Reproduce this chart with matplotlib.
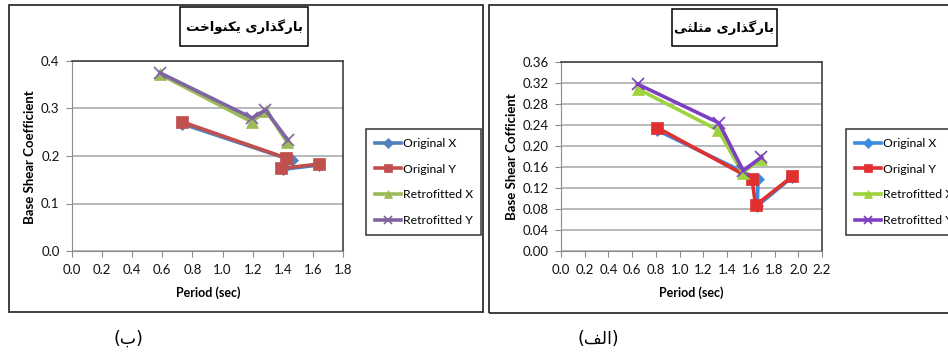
import matplotlib
matplotlib.use("Agg")
from matplotlib import pyplot as plt
from matplotlib.patches import Rectangle

# داده ها - بارگذاری یکنواخت (ب)
u_orig_x_t = [0.73, 1.46, 1.40, 1.64]
u_orig_x_c = [0.268, 0.191, 0.172, 0.181]
u_orig_y_t = [0.73, 1.42, 1.39, 1.64]
u_orig_y_c = [0.272, 0.196, 0.174, 0.183]
u_retro_x_t = [0.585, 1.193, 1.29, 1.43]
u_retro_x_c = [0.372, 0.272, 0.295, 0.229]
u_retro_y_t = [0.585, 1.197, 1.285, 1.435]
u_retro_y_c = [0.375, 0.280, 0.297, 0.233]

# داده ها - بارگذاری مثلثی (الف)
t_orig_x_t = [0.81, 1.66, 1.655, 1.95]
t_orig_x_c = [0.230, 0.137, 0.086, 0.141]
t_orig_y_t = [0.81, 1.61, 1.64, 1.95]
t_orig_y_c = [0.235, 0.137, 0.087, 0.142]
t_retro_x_t = [0.645, 1.326, 1.53, 1.69]
t_retro_x_c = [0.309, 0.230, 0.149, 0.176]
t_retro_y_t = [0.645, 1.331, 1.536, 1.69]
t_retro_y_c = [0.318, 0.244, 0.153, 0.179]

series_names = ["Original X", "Original Y", "Retrofitted X", "Retrofitted Y"]

# اشکال حروف: (تنها، پایانی، آغازی، میانی)
FORMS = {
    '\u0627': ('\uFE8D', '\uFE8E', None, None),
    '\u0628': ('\uFE8F', '\uFE90', '\uFE91', '\uFE92'),
    '\u062A': ('\uFE95', '\uFE96', '\uFE97', '\uFE98'),
    '\u062B': ('\uFE99', '\uFE9A', '\uFE9B', '\uFE9C'),
    '\u062E': ('\uFEA5', '\uFEA6', '\uFEA7', '\uFEA8'),
    '\u0630': ('\uFEAB', '\uFEAC', None, None),
    '\u0631': ('\uFEAD', '\uFEAE', None, None),
    '\u0641': ('\uFED1', '\uFED2', '\uFED3', '\uFED4'),
    '\u0644': ('\uFEDD', '\uFEDE', '\uFEDF', '\uFEE0'),
    '\u0645': ('\uFEE1', '\uFEE2', '\uFEE3', '\uFEE4'),
    '\u0646': ('\uFEE5', '\uFEE6', '\uFEE7', '\uFEE8'),
    '\u0648': ('\uFEED', '\uFEEE', None, None),
    '\u06CC': ('\uFBFC', '\uFBFD', '\uFBFE', '\uFBFF'),
    '\u06A9': ('\uFB8E', '\uFB8F', '\uFB90', '\uFB91'),
    '\u06AF': ('\uFB92', '\uFB93', '\uFB94', '\uFB95'),
}


def fa(text):
    out = []
    for i, ch in enumerate(text):
        if ch not in FORMS:
            out.append(ch)
            continue
        prev = text[i - 1] if i > 0 else ''
        nxt = text[i + 1] if i + 1 < len(text) else ''
        jp = prev in FORMS and FORMS[prev][2] is not None
        jn = nxt in FORMS and FORMS[ch][2] is not None
        iso, fin, ini, med = FORMS[ch]
        if jp and jn:
            out.append(med)
        elif jp:
            out.append(fin)
        elif jn:
            out.append(ini)
        else:
            out.append(iso)
    mirror = {'(': ')', ')': '('}
    return ''.join(mirror.get(c, c) for c in reversed(out))


plt.rcParams['font.family'] = ['Lato', 'DejaVu Sans']

W, H = 948, 356
fig = plt.figure(figsize=(W / 100, H / 100), dpi=100)


def px(x0, y0, x1, y1):
    return [x0 / W, 1 - y1 / H, (x1 - x0) / W, (y1 - y0) / H]


def box(x0, y0, x1, y1, lw, color):
    fig.patches.append(Rectangle((x0 / W, 1 - y1 / H), (x1 - x0) / W, (y1 - y0) / H,
                                 transform=fig.transFigure, fill=False, edgecolor=color, lw=lw))


# قاب ها
box(9, 5, 483, 312, 1.3, '#303030')
box(489, 5, 960, 313, 1.3, '#303030')


def draw(rect, data, colors, xmax, ymax, ystep, yfmt, ylabel, title, tbox, leg_x, xlab_x, ylab_x):
    ax = fig.add_axes(rect)
    markers = [('D', 6), ('s', 8), ('^', 8), ('x', 8)]
    for (t, c), col, (m, ms), name in zip(data, colors, markers, series_names):
        ax.plot(t, c, color=col, lw=2.6, marker=m, markersize=ms, markeredgewidth=1.2 if m == 'x' else 0.5,
                markeredgecolor=col, label=name)
    ax.set_xlim(0, xmax)
    ax.set_ylim(0, ymax)
    nxt = int(round(xmax / 0.2)) + 1
    ax.set_xticks([i * 0.2 for i in range(nxt)])
    ax.set_xticklabels(['%.1f' % (i * 0.2) for i in range(nxt)])
    nyt = int(round(ymax / ystep)) + 1
    ax.set_yticks([i * ystep for i in range(nyt)])
    ax.set_yticklabels([yfmt % (i * ystep) for i in range(nyt)])
    ax.grid(axis='y', color='#a6a6a6', lw=1.1)
    ax.set_axisbelow(True)
    for s in ['left', 'bottom']:
        ax.spines[s].set_color('#8c8c8c')
    for s in ['top', 'right']:
        ax.spines[s].set_color('#404040')
        ax.spines[s].set_linewidth(1.2)
    ax.tick_params(axis='both', direction='out', length=4, color='#8c8c8c', labelsize=9.5,
                   labelcolor='#111111', pad=5)
    fig.text(xlab_x / W, 1 - 293 / H, 'Period (sec)', ha='center', va='center',
             fontsize=9, fontweight='bold')
    fig.text(ylab_x / W, 1 - 157 / H, ylabel, ha='center', va='center', rotation=90,
             fontsize=9.5, fontweight='bold')
    box(*tbox, 1.1, 'black')
    fig.text((tbox[0] + tbox[2]) / 2 / W, 1 - (tbox[1] + tbox[3]) / 2 / H, title,
             ha='center', va='center', fontsize=9.5, family=['DejaVu Sans'], fontweight='bold')
    leg = ax.legend(loc='center left', bbox_to_anchor=(leg_x / W, 1 - 182 / H),
                    bbox_transform=fig.transFigure, frameon=True, fancybox=False,
                    edgecolor='black', fontsize=8.8, handlelength=2.2, handletextpad=0.1,
                    labelspacing=1.2, borderpad=0.7, borderaxespad=0, markerscale=0.8)
    leg.get_frame().set_linewidth(1.1)
    return ax


left_colors = ['#4f81bd', '#c0504d', '#9bbb59', '#8064a2']
right_colors = ['#3a8ce0', '#e03030', '#9dd33c', '#7c3fc4']

draw(px(72, 61, 343, 251),
     [(u_orig_x_t, u_orig_x_c), (u_orig_y_t, u_orig_y_c),
      (u_retro_x_t, u_retro_x_c), (u_retro_y_t, u_retro_y_c)],
     left_colors, 1.8, 0.4, 0.1, '%.1f', 'Base Shear Coefficient',
     fa('بارگذاری یکنواخت'), (180, 7, 308, 46), 366, 208, 30)

draw(px(561, 62, 822, 251),
     [(t_orig_x_t, t_orig_x_c), (t_orig_y_t, t_orig_y_c),
      (t_retro_x_t, t_retro_x_c), (t_retro_y_t, t_retro_y_c)],
     right_colors, 2.2, 0.36, 0.04, '%.2f', 'Base Shear Cofficient',
     fa('بارگذاری مثلثی'), (672, 9, 777, 46), 846, 691, 512)

fig.text(128 / W, 1 - 339 / H, fa('(ب)'), ha='center', va='center', fontsize=12.5,
         family=['DejaVu Sans'])
fig.text(598 / W, 1 - 339 / H, fa('(الف)'), ha='center', va='center', fontsize=12.5,
         family=['DejaVu Sans'])

fig.savefig('out.png', dpi=100)
